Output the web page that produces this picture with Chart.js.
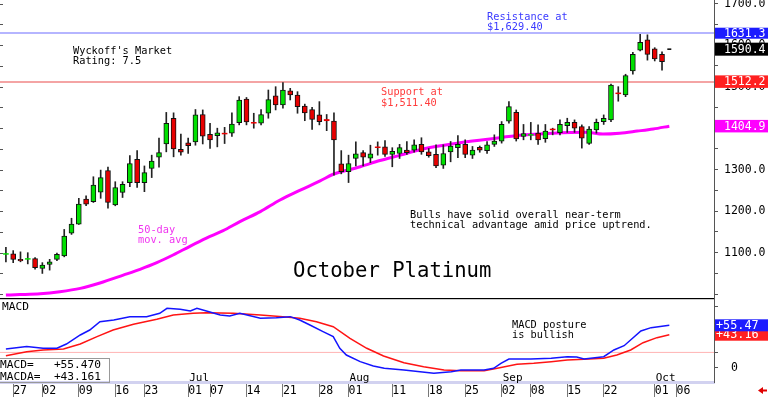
<!DOCTYPE html>
<html><head><meta charset="utf-8">
<script src="https://cdn.jsdelivr.net/npm/chart.js@4/dist/chart.umd.min.js"></script>
<style>
html,body{margin:0;padding:0;background:#fff;overflow:hidden}
#wrap{position:relative;width:768px;height:399px;background:#fff}
#c1{position:absolute;left:0;top:0}
#c2{position:absolute;left:0;top:298px}
</style></head><body>
<div id="wrap"><canvas id="c1" width="768" height="298"></canvas><canvas id="c2" width="768" height="101"></canvas></div>
<script>
// ---------- DATA ----------
const dates = [
'2025-05-23','2025-05-27','2025-05-28','2025-05-29','2025-05-30',
'2025-06-02','2025-06-03','2025-06-04','2025-06-05','2025-06-06',
'2025-06-09','2025-06-10','2025-06-11','2025-06-12','2025-06-13',
'2025-06-16','2025-06-17','2025-06-18','2025-06-20',
'2025-06-23','2025-06-24','2025-06-25','2025-06-26','2025-06-27',
'2025-06-30','2025-07-01','2025-07-02','2025-07-03',
'2025-07-07','2025-07-08','2025-07-09','2025-07-10','2025-07-11',
'2025-07-14','2025-07-15','2025-07-16','2025-07-17','2025-07-18',
'2025-07-21','2025-07-22','2025-07-23','2025-07-24','2025-07-25',
'2025-07-28','2025-07-29','2025-07-30','2025-07-31','2025-08-01',
'2025-08-04','2025-08-05','2025-08-06','2025-08-07','2025-08-08',
'2025-08-11','2025-08-12','2025-08-13','2025-08-14','2025-08-15',
'2025-08-18','2025-08-19','2025-08-20','2025-08-21','2025-08-22',
'2025-08-25','2025-08-26','2025-08-27','2025-08-28','2025-08-29',
'2025-09-02','2025-09-03','2025-09-04','2025-09-05',
'2025-09-08','2025-09-09','2025-09-10','2025-09-11','2025-09-12',
'2025-09-15','2025-09-16','2025-09-17','2025-09-18','2025-09-19',
'2025-09-22','2025-09-23','2025-09-24','2025-09-25','2025-09-26',
'2025-09-29','2025-09-30','2025-10-01','2025-10-02'];
const futureDates = ['2025-10-03','2025-10-06','2025-10-07','2025-10-08','2025-10-09','2025-10-10'];

const opens = [1096,1097,1084,1084,1086, 1062,1072,1084,1092,1147, 1169,1229,1223,1246,1298,
 1215,1245,1269,1325, 1269,1303,1330,1362,1424, 1349,1365,1367,1433, 1385,1382,1388,1388,1413,
 1470,1414,1412,1436,1478, 1456,1490,1480,1453,1445, 1432,1421,1417,1314,1295, 1327,1341,1328,1355,1355,
 1337,1339,1347,1347,1361, 1343,1337,1311,1343,1353, 1361,1335,1354,1346,1361, 1369,1417,1438,1380,
 1383,1388,1375,1398,1389, 1406,1414,1404,1363,1396, 1416,1420,1485,1480,1538, 1588,1613,1591,1578];
const highs = [1113,1105,1102,1100,1088, 1076,1084,1099,1156,1183, 1231,1237,1283,1299,1306,
 1271,1271,1334,1346, 1309,1335,1376,1438,1437, 1386,1376,1445,1444, 1412,1400,1402,1437,1476,
 1474,1436,1445,1492,1500, 1510,1496,1488,1458,1450, 1464,1433,1437,1346,1335, 1367,1346,1359,1367,1370,
 1353,1361,1368,1372,1377, 1351,1360,1360,1368,1382, 1372,1356,1357,1368,1384, 1416,1464,1444,1409,
 1414,1408,1409,1400,1420, 1424,1420,1408,1404,1422, 1432,1506,1500,1530,1583, 1626,1625,1594,1584];
const lows = [1078,1076,1078,1073,1060, 1050,1058,1081,1090,1144, 1168,1213,1221,1231,1207,
 1213,1233,1259,1257, 1247,1281,1306,1343,1331, 1335,1339,1359,1362, 1351,1355,1363,1380,1408,
 1408,1400,1408,1424,1444, 1448,1468,1436,1418,1397, 1408,1394,1287,1290,1269, 1309,1309,1317,1335,1332,
 1307,1327,1337,1342,1337, 1330,1305,1303,1319,1329, 1329,1327,1342,1339,1356, 1364,1412,1369,1372,
 1372,1361,1366,1384,1384, 1390,1390,1352,1361,1388, 1409,1416,1465,1476,1530, 1586,1564,1562,1540];
const closes = [1098,1084,1080,1086,1064, 1070,1078,1096,1140,1169, 1217,1217,1263,1281,1221,
 1257,1265,1315,1269, 1293,1321,1341,1412,1350, 1342,1358,1432,1381, 1372,1389,1386,1410,1468,
 1415,1412,1433,1469,1456, 1492,1480,1452,1437,1421, 1416,1418,1372,1295,1315, 1338,1330,1338,1353,1337,
 1344,1353,1341,1360,1343, 1334,1309,1339,1357,1361, 1337,1347,1347,1360,1369, 1409,1452,1374,1387,
 1385,1372,1393,1396,1409, 1414,1400,1376,1398,1414, 1424,1504,1483,1527,1578, 1607,1578,1567,1560];

const lastDate = '2025-10-03';
const lastPrice = 1590.4;
const resistance = 1629.4;
const support = 1511.4;

// 50-day moving average read at trading-day positions
const maPos  = [0,1.9,4.7,7.4,10.2,12.9,16.1,18.4,20.7,23.0,25.3,27.5,29.8,32.1,34.9,37.6,40.3,43.1,44.9,45.8,48.6,51.3,54.1,57.2,61.9,66.4,70.5,75.0,79.7,81.9,84.2,86.6,88.8,91];
const maVals = [998,999,1001,1006,1014,1027,1046,1060,1076,1095,1116,1135,1153,1175,1199,1227,1250,1273,1289,1294,1307,1322,1335,1350,1364,1374,1383,1388,1390,1386,1388,1393,1398,1404.9];

// MACD (blue) and MACDA (red)
const macdPos  = [0,2.85,5.1,7.0,8.3,10.2,11.5,12.9,14.8,17.0,19.3,21.1,22.1,23.9,25.3,26.2,27.5,29.4,30.7,32.1,34.9,37.1,39.0,40.3,41.7,43.5,44.9,45.8,46.7,48.6,50.4,51.9,54.6,58.7,61.1,62.4,65.6,66.9,67.9,69.0,72.0,74.8,77.0,78.3,79.3,82.0,83.4,84.8,87.1,88.5,91];
const macdVals = [24.5,27.6,25.4,25.4,31,42.8,49.3,60.2,62.4,66.8,66.8,71.2,77.7,76.4,74.2,77.7,74.2,69,67.7,71.2,64.7,65.4,66.8,62.4,55.9,47.1,40.6,25.4,16.6,7.9,2.2,-0.8,-3,-7.3,-5.2,-3,-3,-0.8,5.8,11.4,11.4,12.3,14.4,14,11.4,14.4,23.2,28.8,48,52.4,55.47];
const macdaPos  = [0,2.85,5.1,7.9,10.2,12.5,14.7,17.5,20.7,22.96,25.7,27.5,31.2,34.9,38.0,40.3,42.6,44.9,47.2,49.5,51.8,54.6,57.3,60.1,62.4,65.6,67.4,70.1,72.4,74.8,77.0,79.3,82.0,83.8,85.7,87.4,89.3,91];
const macdaVals = [15.7,21,23.2,24.5,31,40.6,49.3,56.8,63.4,69,71.2,72,71.2,69,66.8,64.7,60.2,53.7,38.5,25.4,15.3,6.5,1.3,-3,-3.9,-3.9,-0.8,4.4,5.8,7.9,10,11,12.3,16.6,23.2,32.7,39.3,43.16];
const macdLast = 55.470, macdaLast = 43.161;
const macdRef = 20;

// axis ticks
const yTicks = [1000,1050,1100,1150,1200,1250,1300,1350,1400,1450,1500,1550,1600,1650,1700];
const yLabelVals = [1100,1200,1300,1400,1500,1600,1700];
const macdTicks = [0,20,40,60,80];
const macdLabelVals = [0];
const tickDates = ['2025-05-27','2025-06-02','2025-06-09','2025-06-16','2025-06-23','2025-07-01','2025-07-07','2025-07-14','2025-07-21','2025-07-28','2025-08-01','2025-08-11','2025-08-18','2025-08-25','2025-09-02','2025-09-08','2025-09-15','2025-09-22','2025-10-01','2025-10-06'];
const monthDates = ['2025-07-01','2025-08-01','2025-09-02','2025-10-01'];
const monthNames = ['Jul','Aug','Sep','Oct'];

// ---------- BUILD ----------
const allDays = dates.concat(futureDates);
const kOf = d => allDays.indexOf(d);
const xMin = -0.81, xMax = 97.13;
const MONO = '"DejaVu Sans Mono"';
const GREEN = '#00e000', RED = '#e80000';
const isUp = i => closes[i] >= opens[i];
const isDoji = i => Math.abs(closes[i] - opens[i]) <= 3;

const bodyData = dates.map((d, i) => ({x: kOf(d), y: [opens[i], closes[i]]}));
const wickData = dates.map((d, i) => ({x: kOf(d), y: [lows[i], highs[i]]}));

function txt(ctx, s, x, y, color, font) {
  ctx.fillStyle = color; ctx.font = font; ctx.textAlign = 'left'; ctx.textBaseline = 'alphabetic';
  ctx.fillText(s, x, y);
}
function valBox(ctx, yc, h, bg, s, tx, font) {
  ctx.fillStyle = bg; ctx.fillRect(715, yc - h / 2, 53, h);
  ctx.fillStyle = '#fff'; ctx.font = font; ctx.textAlign = 'left'; ctx.textBaseline = 'middle';
  ctx.fillText(s, tx, yc + 0.5);
}

const annot1 = {
  id: 'annot1',
  afterDraw(chart) {
    const ctx = chart.ctx, ys = chart.scales.y;
    ctx.save();
    ctx.fillStyle = '#555';
    yTicks.forEach(v => ctx.fillRect(0, Math.round(ys.getPixelForValue(v)), 3, 1));
    const f = '10.3px ' + MONO;
    txt(ctx, "Wyckoff's Market", 73, 53.5, '#000', f);
    txt(ctx, 'Rating: 7.5', 73, 64, '#000', f);
    txt(ctx, 'Resistance at', 487, 20, '#3a3aff', f);
    txt(ctx, '$1,629.40', 487, 30, '#3a3aff', f);
    txt(ctx, 'Support at', 381, 95, '#ff3c3c', f);
    txt(ctx, '$1,511.40', 381, 105.5, '#ff3c3c', f);
    txt(ctx, '50-day', 138, 233, '#f035f0', f);
    txt(ctx, 'mov. avg', 138, 243.3, '#f035f0', f);
    txt(ctx, 'Bulls have solid overall near-term', 410, 218, '#000', f);
    txt(ctx, 'technical advantage amid price uptrend.', 410, 228.3, '#000', f);
    txt(ctx, 'October Platinum', 293, 276.7, '#000', '20.6px ' + MONO);
    const bf = '11.5px ' + MONO;
    valBox(ctx, ys.getPixelForValue(maVals[maVals.length - 1]), 12.5, '#ff00ff', maVals[maVals.length - 1].toFixed(1), 724, bf);
    valBox(ctx, ys.getPixelForValue(1512.2), 12.5, '#ff2020', '1512.2', 724, bf);
    valBox(ctx, ys.getPixelForValue(lastPrice), 13, '#000', lastPrice.toFixed(1), 724, bf);
    valBox(ctx, ys.getPixelForValue(1631.3) + 1, 11, '#1c1cff', '1631.3', 724, bf);
    ctx.restore();
  }
};

new Chart(document.getElementById('c1'), {
  type: 'bar',
  data: { datasets: [
    { type: 'bar', data: bodyData, grouped: false, barThickness: 5,
      backgroundColor: c => isUp(c.dataIndex) ? GREEN : RED,
      borderColor: '#111', borderWidth: c => isDoji(c.dataIndex) ? 0 : 1, borderSkipped: false },
    { type: 'bar', data: wickData, grouped: false, barThickness: 1, backgroundColor: '#222', borderWidth: 0 },
    { type: 'line', data: [{x: kOf(lastDate), y: lastPrice}], showLine: false, pointStyle: 'line',
      pointRadius: 2, borderColor: '#000', borderWidth: 1.5 },
    { type: 'line', data: maPos.map((k, i) => ({x: k, y: maVals[i]})), borderColor: '#ff00ff',
      borderWidth: 3, pointRadius: 0, cubicInterpolationMode: 'monotone', fill: false },
    { type: 'line', data: [{x: xMin, y: resistance}, {x: xMax, y: resistance}], borderColor: '#9c9cff', borderWidth: 1.5, pointRadius: 0 },
    { type: 'line', data: [{x: xMin, y: support}, {x: xMax, y: support}], borderColor: '#f4a4a4', borderWidth: 2, pointRadius: 0 }
  ]},
  options: {
    responsive: false, animation: false, devicePixelRatio: 1, events: [],
    layout: { padding: 0, autoPadding: false },
    plugins: { legend: { display: false }, tooltip: { enabled: false } },
    scales: {
      x: { type: 'linear', min: xMin, max: xMax, display: false, offset: false },
      y: { position: 'right', min: 990.8, max: 1708.9,
        afterBuildTicks: s => { s.ticks = yTicks.map(v => ({value: v})); },
        afterFit: s => { s.width = 54; s.paddingTop = 0; s.paddingBottom = 0; },
        ticks: { callback: v => yLabelVals.includes(v) ? v.toFixed(1) : '', autoSkip: false,
          font: { family: 'DejaVu Sans Mono', size: 11.5 }, color: '#000', padding: 6 },
        grid: { drawOnChartArea: false, tickLength: 4, color: '#555' },
        border: { color: '#555', width: 1 }
      }
    }
  },
  plugins: [annot1]
});

const annot2 = {
  id: 'annot2',
  afterDraw(chart) {
    const ctx = chart.ctx, ys = chart.scales.y, xs = chart.scales.x;
    ctx.save();
    ctx.fillStyle = '#000'; ctx.fillRect(0, 0, 714, 1.2);
    const f = '10.3px ' + MONO, f2 = '11.2px ' + MONO;
    txt(ctx, 'MACD', 2, 12, '#000', f2);
    txt(ctx, 'MACD posture', 512, 30.3, '#000', f);
    txt(ctx, 'is bullish', 512, 40.3, '#000', f);
    monthDates.forEach((d, i) => txt(ctx, monthNames[i], xs.getPixelForValue(kOf(d)) + 1, 83, '#000', '11px ' + MONO));
    // value readout box
    ctx.fillStyle = '#fff'; ctx.fillRect(0, 60.5, 110, 22);
    ctx.strokeStyle = '#999'; ctx.lineWidth = 1; ctx.strokeRect(-1, 60.5, 110.5, 24);
    txt(ctx, 'MACD=   +' + macdLast.toFixed(3), 0, 70.3, '#000', f2);
    txt(ctx, 'MACDA=  +' + macdaLast.toFixed(3), 0, 81.5, '#000', f2);
    // right value boxes
    const bf = '11.8px ' + MONO;
    valBox(ctx, ys.getPixelForValue(macdaLast), 12, '#ff2020', '+' + macdaLast.toFixed(2), 716, bf);
    valBox(ctx, ys.getPixelForValue(macdLast), 12, '#1c1cff', '+' + macdLast.toFixed(2), 716, bf);
    // small red arrow
    ctx.fillStyle = '#e00000';
    ctx.beginPath(); ctx.moveTo(758, 92.5); ctx.lineTo(763, 89); ctx.lineTo(763, 96); ctx.closePath(); ctx.fill();
    ctx.fillRect(762, 91.5, 5, 2);
    ctx.restore();
  }
};

new Chart(document.getElementById('c2'), {
  type: 'line',
  data: { datasets: [
    { data: macdPos.map((k, i) => ({x: k, y: macdVals[i]})), borderColor: '#1414ff', borderWidth: 1.5, pointRadius: 0 },
    { data: macdaPos.map((k, i) => ({x: k, y: macdaVals[i]})), borderColor: '#ff1414', borderWidth: 1.5, pointRadius: 0 },
    { data: [{x: xMin, y: macdRef}, {x: xMax, y: macdRef}], borderColor: '#ffb4b4', borderWidth: 1, pointRadius: 0 }
  ]},
  options: {
    responsive: false, animation: false, devicePixelRatio: 1, events: [],
    layout: { padding: 0, autoPadding: false },
    plugins: { legend: { display: false }, tooltip: { enabled: false } },
    scales: {
      x: { type: 'linear', min: xMin, max: xMax, offset: false,
        afterBuildTicks: s => { s.ticks = tickDates.map(d => ({value: kOf(d)})); },
        afterFit: s => { s.height = 17; s.paddingLeft = 0; s.paddingRight = 0; },
        ticks: { callback: v => allDays[v] ? allDays[v].slice(8) : '', align: 'start', autoSkip: false,
          maxRotation: 0, minRotation: 0, padding: -13, font: { family: 'DejaVu Sans Mono', size: 11.5 }, color: '#000' },
        grid: { drawOnChartArea: false, tickLength: 15, color: '#777' },
        border: { color: '#d2d2f0', width: 3 }
      },
      y: { position: 'right', min: -18.7, max: 91.2,
        afterBuildTicks: s => { s.ticks = macdTicks.map(v => ({value: v})); },
        afterFit: s => { s.width = 54; s.paddingTop = 0; s.paddingBottom = 0; },
        ticks: { callback: v => macdLabelVals.includes(v) ? String(v) : '', autoSkip: false,
          font: { family: 'DejaVu Sans Mono', size: 11.5 }, color: '#000', padding: 13 },
        grid: { drawOnChartArea: false, tickLength: 4, color: '#555' },
        border: { color: '#555', width: 1 }
      }
    }
  },
  plugins: [annot2]
});
</script>
</body></html>
